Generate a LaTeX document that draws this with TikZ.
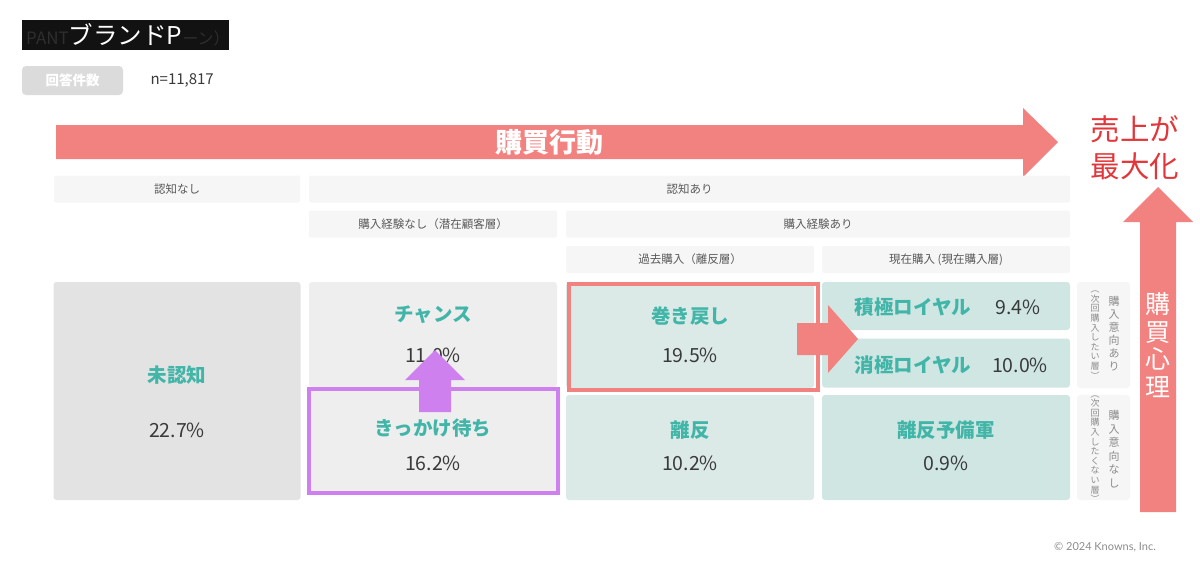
\documentclass[tikz,border=0pt]{standalone}
\usepackage{fontspec}
\setmainfont{Noto Sans CJK JP}
\newfontfamily\latofont{Lato}
\usetikzlibrary{positioning}
\usepackage{xcolor}

\definecolor{salmon}{RGB}{242,130,128}
\definecolor{salesred}{RGB}{226,54,58}
\definecolor{segteal}{RGB}{64,181,168}
\definecolor{pcttext}{RGB}{58,58,58}
\definecolor{hdrfill}{RGB}{246,246,246}
\definecolor{hdrtext}{RGB}{90,90,90}
\definecolor{sidetext}{RGB}{140,140,140}
\definecolor{grayA}{RGB}{227,227,227}
\definecolor{grayB}{RGB}{238,238,238}
\definecolor{mintA}{RGB}{220,234,231}
\definecolor{mintB}{RGB}{207,230,227}
\definecolor{lilac}{RGB}{206,128,238}

\tikzset{hdr/.style={fill=hdrfill, rounded corners=2pt, inner sep=0pt,
           text=hdrtext, font=\fontsize{11.5}{13}\selectfont},
         cell/.style={rounded corners=3pt, inner sep=0pt},
         ttl/.style={text=segteal, font=\fontsize{19.5}{23}\selectfont\bfseries},
         pct/.style={text=pcttext, font=\fontsize{19.5}{23}\selectfont},
         side/.style={text=sidetext, align=center, inner sep=0pt}}

\begin{document}
\begin{tikzpicture}[x=1pt, y=-1pt]

        \useasboundingbox (0,0) rectangle (1200,560);

        % Title and sample size
        \node[fill=black!93, minimum width=207pt, minimum height=30pt, inner sep=0pt] (brand) at (125.5,35) {};
        \node[anchor=west, inner sep=0pt] (brandtext) at (26,35)
            {{\color{black!82}\fontsize{17}{20}\selectfont PANT}{\color{white}\fontsize{24.5}{27}\selectfont ブランドP}{\color{black!82}\fontsize{16}{20}\selectfont ーン）}};
        \node[fill=black!14, rounded corners=4pt, minimum width=101pt, minimum height=29pt, inner sep=0pt,
              text=white, font=\fontsize{13.5}{15}\selectfont\bfseries] (count) at (72.5,80.5) {回答件数};
        \node[anchor=west, text=pcttext, font=\fontsize{15}{17}\selectfont] (n) at (147,80) {n=11,817};

        % Purchase behaviour arrow
        \fill[salmon] (56,125) -- (1023,125) -- (1023,108) -- (1058,142) -- (1023,177) -- (1023,159) -- (56,159) -- cycle;

        % Header rows
        \node[hdr, minimum width=246pt, minimum height=27pt] (h-unaware) at (177,189) {認知なし};
        \node[hdr, minimum width=761pt, minimum height=27pt] (h-aware) at (689.5,189) {認知あり};
        \node[hdr, minimum width=248pt, minimum height=27pt] (h-nobuy) at (433,224) {購入経験なし（潜在顧客層）};
        \node[hdr, minimum width=504pt, minimum height=27pt] (h-buy) at (818,224) {購入経験あり};
        \node[hdr, minimum width=248pt, minimum height=27pt] (h-past) at (690,259.5) {過去購入（離反層）};
        \node[hdr, minimum width=248pt, minimum height=27pt] (h-now) at (946,259.5) {現在購入 (現在購入層)};

        % Segment cells
        \node[cell, fill=grayA, minimum width=247pt, minimum height=218pt] (unaware) at (177,391) {};
        \node[cell, fill=grayB, minimum width=248pt, minimum height=105pt] (chance) at (433,334.5) {};
        \node[cell, fill=grayB, minimum width=248pt, minimum height=104pt] (trigger) at (433,441) {};
        \node[cell, fill=mintA, minimum width=248pt, minimum height=106pt] (rewind) at (690,335) {};
        \node[cell, fill=mintA, minimum width=248pt, minimum height=105pt] (lapsed) at (690,447.5) {};
        \node[cell, fill=mintB, minimum width=248pt, minimum height=48pt] (activeloyal) at (946,306) {};
        \node[cell, fill=mintB, minimum width=248pt, minimum height=49pt] (passiveloyal) at (946,363) {};
        \node[cell, fill=mintB, minimum width=248pt, minimum height=105pt] (reserve) at (946,447.5) {};
        \node[cell, fill=hdrfill, minimum width=53pt, minimum height=106pt] (intent-yes) at (1103.5,335) {};
        \node[cell, fill=hdrfill, minimum width=53pt, minimum height=105pt] (intent-no) at (1103.5,447.5) {};

        % Segment labels
        \node[ttl] (unaware-t) at (177,375) {未認知};
        \node[pct] (unaware-p) at (177,430) {22.7\%};
        \node[ttl] (chance-t) at (433,315) {チャンス};
        \node[pct] (chance-p) at (433,355) {11.0\%};
        \node[ttl] (trigger-t) at (433,428) {きっかけ待ち};
        \node[pct] (trigger-p) at (433,463) {16.2\%};
        \node[ttl] (rewind-t) at (690,316) {巻き戻し};
        \node[pct] (rewind-p) at (690,355) {19.5\%};
        \node[ttl] (lapsed-t) at (690,430) {離反};
        \node[pct] (lapsed-p) at (690,463) {10.2\%};
        \node[ttl] (activeloyal-t) at (913,307) {積極ロイヤル};
        \node[pct] (activeloyal-p) at (1018,307) {9.4\%};
        \node[ttl] (passiveloyal-t) at (913,365) {消極ロイヤル};
        \node[pct] (passiveloyal-p) at (1020,365) {10.0\%};
        \node[ttl] (reserve-t) at (946,430) {離反予備軍};
        \node[pct] (reserve-p) at (946,463) {0.9\%};

        % Intent labels (stacked vertically)
        \node[side, font=\fontsize{11}{13}\selectfont] (yes-a) at (1114,334) {購\\入\\意\\向\\あ\\り};
        \node[side, font=\fontsize{9}{9.6}\selectfont] (yes-b) at (1095,335) {︵\\次\\回\\購\\入\\し\\た\\い\\層\\︶};
        \node[side, font=\fontsize{11}{13.5}\selectfont] (no-a) at (1114,449) {購\\入\\意\\向\\な\\し};
        \node[side, font=\fontsize{9}{9.6}\selectfont] (no-b) at (1095,449) {︵\\次\\回\\購\\入\\し\\た\\く\\な\\い\\層\\︶};

        % Highlight frames
        \draw[lilac, line width=4pt] (309,389) rectangle (558,493);
        \draw[salmon, line width=4.5pt] (569,284) rectangle (818,390);

        % Block arrows
        \fill[lilac] (419,412) -- (419,380) -- (405,380) -- (435,350) -- (465,380) -- (451,380) -- (451,412) -- cycle;
        \fill[salmon] (797,323) -- (828,323) -- (828,305) -- (858,339) -- (828,373) -- (828,355) -- (797,355) -- cycle;
        \fill[salmon] (1140,512) -- (1140,222) -- (1123,222) -- (1158,187) -- (1193,222) -- (1176,222) -- (1176,512) -- cycle;

        % Arrow texts
        \node[text=white, font=\fontsize{27}{30}\selectfont\bfseries] (behaviour) at (549,142) {購買行動};
        \node[text=white, align=center, inner sep=0pt, font=\fontsize{25}{27.5}\selectfont] (mind) at (1158,345) {購\\買\\心\\理};
        \node[text=salesred, align=center, inner sep=0pt, font=\fontsize{29.5}{37}\selectfont] (sales) at (1135,148) {売上が\\最大化};

        % Copyright
        \node[text=sidetext, font=\latofont\fontsize{11}{13}\selectfont] (copy) at (1105,547) {© 2024 Knowns, Inc.};

    \end{tikzpicture}
\end{document}
